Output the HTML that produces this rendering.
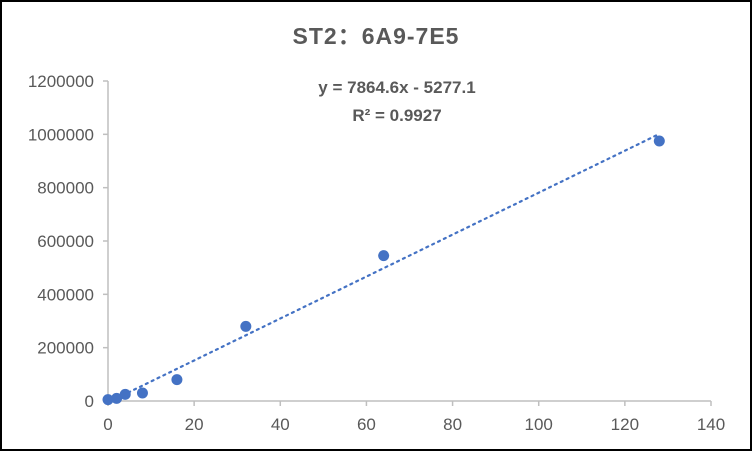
<!DOCTYPE html>
<html><head><meta charset="utf-8"><style>
body{margin:0;width:752px;height:451px;overflow:hidden;background:#fff}
svg{display:block}
text{font-family:"Liberation Sans","Noto Sans CJK SC",sans-serif}
</style></head><body>
<svg id="chart" width="752" height="451" xmlns="http://www.w3.org/2000/svg">
<rect x="1" y="1" width="750" height="449" fill="#fff" stroke="#000" stroke-width="2"/>
<text x="376" y="44" text-anchor="middle" font-size="23" font-weight="bold" fill="#595959" style="letter-spacing:1px">ST2：6A9-7E5</text>
<text x="397" y="93" text-anchor="middle" font-size="17" font-weight="bold" fill="#595959">y = 7864.6x - 5277.1</text>
<text x="397" y="121" text-anchor="middle" font-size="17" font-weight="bold" fill="#595959">R² = 0.9927</text>
<g id="axes"></g>
<g id="marks"></g>
</svg>
<script>
const xValues=[0,2,4,8,16,32,64,128];
const yValues=[5000,10000,25000,30000,80000,280000,545000,975000];
const xTicks=[0,20,40,60,80,100,120,140];
const yTicks=[0,200000,400000,600000,800000,1000000,1200000];
const slope=7864.6, intercept=-5277.1;
const NS="http://www.w3.org/2000/svg";
const X0=108,X1=711,Y0=401,Y1=81;
const sx=v=>X0+(v-0)/(140-0)*(X1-X0);
const sy=v=>Y0-(v/1200000)*(Y0-Y1);
function mk(t,a,p){const e=document.createElementNS(NS,t);for(const k in a)e.setAttribute(k,a[k]);p.appendChild(e);return e;}
const ax=document.getElementById('axes'),mg=document.getElementById('marks');
let l=mk('line',{x1:X0,y1:Y0,x2:X1,y2:Y0,stroke:'#bfbfbf','stroke-width':1.5},ax);


l=mk('line',{x1:X0,y1:Y0,x2:X0,y2:Y1,stroke:'#bfbfbf','stroke-width':1.5},ax);


xTicks.forEach(v=>{
 const t=mk('line',{x1:sx(v),y1:Y0,x2:sx(v),y2:Y0+5,stroke:'#bfbfbf','stroke-width':1.5},ax);
 
 
 const tx=mk('text',{x:sx(v),y:Y0+29,'text-anchor':'middle','font-size':17,fill:'#595959'},ax);
 tx.textContent=v;
 
 
});
yTicks.forEach(v=>{
 const t=mk('line',{x1:X0-5,y1:sy(v),x2:X0,y2:sy(v),stroke:'#bfbfbf','stroke-width':1.5},ax);
 
 
 const tx=mk('text',{x:X0-14,y:sy(v)+6,'text-anchor':'end','font-size':17,fill:'#595959'},ax);
 tx.textContent=v;
 
 
});
const tr=mk('line',{x1:sx(2),y1:sy(slope*2+intercept),x2:sx(128),y2:sy(slope*128+intercept),stroke:'#4472c4','stroke-width':2.2,'stroke-dasharray':'2 4.5','stroke-linecap':'round'},mg);


xValues.forEach((x,i)=>{
 const c=mk('circle',{cx:sx(x),cy:sy(yValues[i]),r:5.5,fill:'#4472c4'},mg);
 
 
});
</script>
</body></html>
